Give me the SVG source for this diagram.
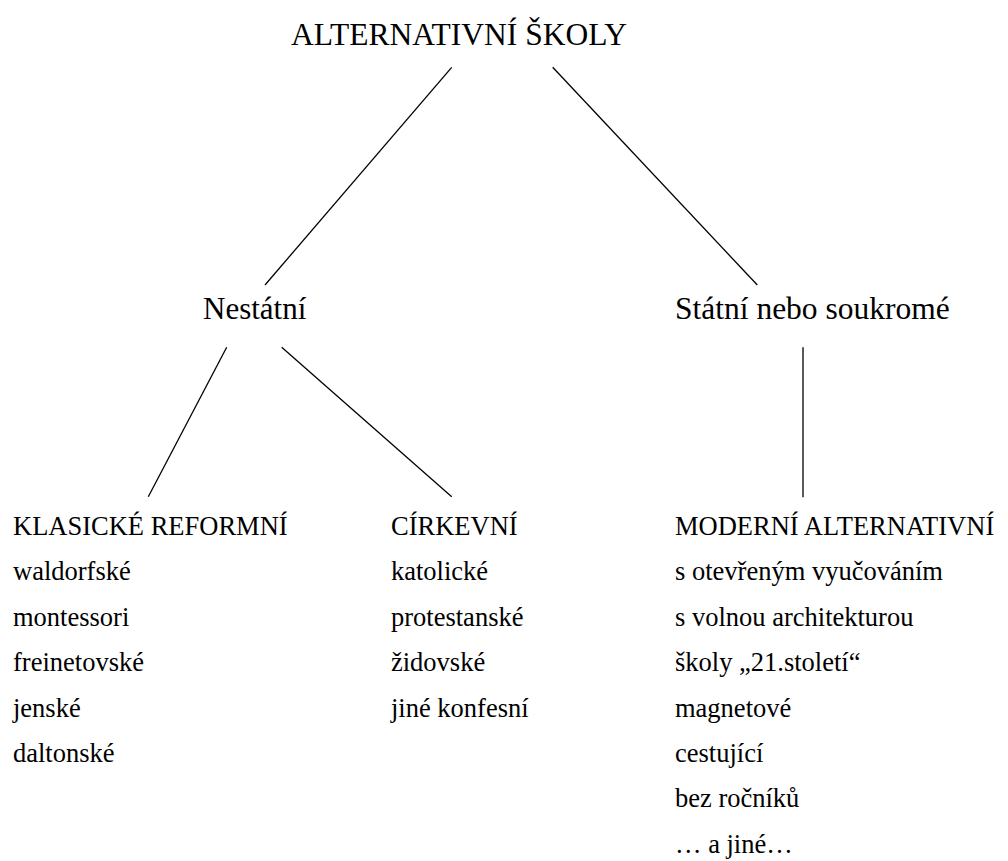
<svg xmlns="http://www.w3.org/2000/svg" width="1008" height="861" viewBox="0 0 1008 861">
<style>
.c line{stroke:#000;stroke-width:1.3}
</style>
<rect width="1008" height="861" fill="#fff"/>
<g class="c" id="connectors">
<line x1="451.7" y1="67.3" x2="265" y2="285"/>
<line x1="552.7" y1="67.3" x2="757.3" y2="285"/>
<line x1="226.7" y1="347.3" x2="148.3" y2="496.7"/>
<line x1="281.7" y1="347.3" x2="451.7" y2="496.7"/>
<line x1="803" y1="347.3" x2="803" y2="497.3"/>
</g>
<g id="root"><text font-family="'Liberation Serif', serif" font-size="31.5" x="291" y="45">ALTERNATIVNÍ ŠKOLY</text></g>
<g id="nestatni"><text font-family="'Liberation Serif', serif" font-size="31" x="203" y="319">Nestátní</text></g>
<g id="statni"><text font-family="'Liberation Serif', serif" font-size="31.5" x="675" y="319">Státní nebo soukromé</text></g>
<g id="klasicke">
<text font-family="'Liberation Serif', serif" font-size="26.5" x="13" y="535">KLASICKÉ REFORMNÍ</text>
<text font-family="'Liberation Serif', serif" font-size="26.5" x="13" y="580.4">waldorfské</text>
<text font-family="'Liberation Serif', serif" font-size="26.5" x="13" y="625.8">montessori</text>
<text font-family="'Liberation Serif', serif" font-size="26.5" x="13" y="671.2">freinetovské</text>
<text font-family="'Liberation Serif', serif" font-size="26.5" x="13" y="716.6">jenské</text>
<text font-family="'Liberation Serif', serif" font-size="26.5" x="13" y="762">daltonské</text>
</g>
<g id="cirkevni">
<text font-family="'Liberation Serif', serif" font-size="26.5" x="391" y="535">CÍRKEVNÍ</text>
<text font-family="'Liberation Serif', serif" font-size="26.5" x="391" y="580.4">katolické</text>
<text font-family="'Liberation Serif', serif" font-size="26.5" x="391" y="625.8">protestanské</text>
<text font-family="'Liberation Serif', serif" font-size="26.5" x="391" y="671.2">židovské</text>
<text font-family="'Liberation Serif', serif" font-size="26.5" x="391" y="716.6">jiné konfesní</text>
</g>
<g id="moderni">
<text font-family="'Liberation Serif', serif" font-size="26.5" x="675" y="535">MODERNÍ ALTERNATIVNÍ</text>
<text font-family="'Liberation Serif', serif" font-size="26.5" x="675" y="580.4">s otevřeným vyučováním</text>
<text font-family="'Liberation Serif', serif" font-size="26.5" x="675" y="625.8">s volnou architekturou</text>
<text font-family="'Liberation Serif', serif" font-size="26.5" x="675" y="671.2">školy „21.století“</text>
<text font-family="'Liberation Serif', serif" font-size="26.5" x="675" y="716.6">magnetové</text>
<text font-family="'Liberation Serif', serif" font-size="26.5" x="675" y="762">cestující</text>
<text font-family="'Liberation Serif', serif" font-size="26.5" x="675" y="807.4">bez ročníků</text>
<text font-family="'Liberation Serif', serif" font-size="26.5" x="675" y="852.8">… a jiné…</text>
</g>
</svg>
